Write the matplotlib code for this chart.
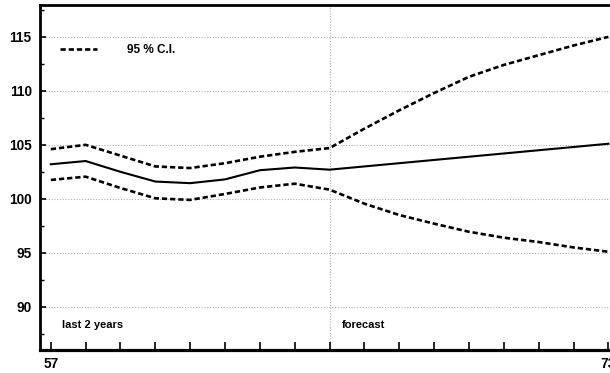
import matplotlib
matplotlib.use("Agg")
import matplotlib.pyplot as plt
from matplotlib.ticker import MultipleLocator

plt.rcParams['font.family'] = ['Liberation Sans', 'DejaVu Sans']

quarters = [57, 58, 59, 60, 61, 62, 63, 64, 65, 66, 67, 68, 69, 70, 71, 72, 73]
estimate = [103.2, 103.5, 102.5, 101.6, 101.45, 101.8, 102.65, 102.9, 102.7,
            103.0, 103.3, 103.6, 103.9, 104.2, 104.5, 104.8, 105.1]
upper_ci = [104.6, 105.0, 104.0, 103.0, 102.85, 103.3, 103.9, 104.35, 104.7,
            106.5, 108.2, 109.8, 111.3, 112.4, 113.3, 114.2, 115.0]
lower_ci = [101.75, 102.05, 101.0, 100.05, 99.9, 100.45, 101.05, 101.4, 100.85,
            99.55, 98.5, 97.7, 96.95, 96.4, 96.0, 95.5, 95.1]
y_ticks = [90, 95, 100, 105, 110, 115]
x_labels = {57: "57", 73: "73"}
forecast_start = 65

fig = plt.figure(figsize=(6.10, 3.73), dpi=100)
ax = fig.add_axes([40/610, 23/373, (622.3-40)/610, (350-5)/373])
ax.set_xlim(56.69, 73.4)
ax.set_ylim(86.0, 117.95)

for y in y_ticks:
    ax.axhline(y, color='#b0b0b0', lw=0.8, ls=(0, (1, 1.5)), zorder=1)
ax.axvline(forecast_start, color='#b0b0b0', lw=0.8, ls=(0, (1, 1.5)), zorder=1)

dash = (0, (2.0, 1.1))
ax.plot(quarters, estimate, color='black', lw=1.5, zorder=3)
ax.plot(quarters, upper_ci, color='black', lw=1.9, ls=dash, zorder=3, label='95 % C.I.')
ax.plot(quarters, lower_ci, color='black', lw=1.9, ls=dash, zorder=3)

leg = ax.legend(loc='upper left', bbox_to_anchor=(20/582, 0.887), frameon=False,
                handlelength=3.1, handletextpad=2.6, borderaxespad=0.0, borderpad=0.0,
                prop={'weight': 'bold', 'size': 8.5})

ax.text(57.31, 88.35, "last 2 years", fontsize=8, fontweight='bold', va='center')
ax.text(65.36, 88.35, "forecast", fontsize=8, fontweight='bold', va='center')

ax.set_yticks(y_ticks)
ax.set_yticklabels([str(v) for v in y_ticks], fontsize=9.8, fontweight='bold')
ax.yaxis.set_minor_locator(MultipleLocator(2.5))
ax.tick_params(axis='y', which='major', direction='in', length=4, width=1.2, pad=6)
ax.tick_params(axis='y', which='minor', direction='in', length=3, width=1.0)

ax.set_xticks(quarters)
ax.set_xticklabels([x_labels.get(q, "") for q in quarters], fontsize=9.8, fontweight='bold')
ax.tick_params(axis='x', which='major', direction='in', length=6, width=1.2, pad=5)

for side in ['left', 'bottom', 'top']:
    ax.spines[side].set_linewidth(2.0)
ax.spines['bottom'].set_linewidth(2.3)
ax.spines['right'].set_visible(False)

fig.savefig("out.png", dpi=100)
